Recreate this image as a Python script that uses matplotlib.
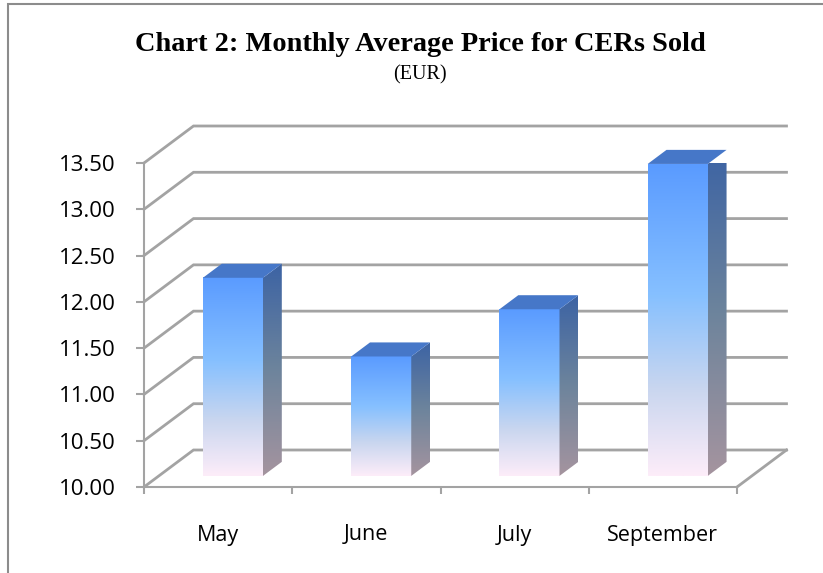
import numpy as np
import matplotlib.pyplot as plt
from matplotlib.colors import LinearSegmentedColormap
from matplotlib.patches import Polygon, Rectangle

# data
months = ['May', 'June', 'July', 'September']
prices = [12.14, 11.29, 11.80, 13.37]
y_ticks = [10.0, 10.5, 11.0, 11.5, 12.0, 12.5, 13.0, 13.5]

W, H = 823, 573
fig = plt.figure(figsize=(W / 100, H / 100), dpi=100)

# front plane of the fake 3d box (pixels)
left_px, right_px = 144, 737
bot_px, top_px = 487, 163
ax = fig.add_axes([left_px / W, 1 - bot_px / H,
                   (right_px - left_px) / W, (bot_px - top_px) / H])
ax.set_facecolor('none')

n = len(months)
ymin, ymax = y_ticks[0], y_ticks[-1]
sx = (right_px - left_px) / n            # px per category
sy = (bot_px - top_px) / (ymax - ymin)   # px per unit

# depth of the walls in data units
DX = 49.5 / sx
DY = 37 / sy

grid = '#a3a3a3'

# back wall + side wall gridlines
for v in y_ticks:
    ax.plot([0, DX, n + DX], [v, v + DY, v + DY], color=grid, lw=2,
            clip_on=False, zorder=1, solid_joinstyle='miter')
# floor right edge
ax.plot([n, n + DX], [ymin, ymin + DY], color=grid, lw=2, clip_on=False, zorder=1)

front_cmap = LinearSegmentedColormap.from_list(
    'front', [(0, '#5a9bff'), (0.42, '#86c0ff'), (0.72, '#c9d6ef'), (1, '#fdedf9')])
side_cmap = LinearSegmentedColormap.from_list(
    'side', [(0, '#3c63a4'), (0.5, '#6d849c'), (1, '#a5949f')])
top_color = '#4677c8'

grad_front = front_cmap(np.linspace(0, 1, 256))[:, None, :3]
grad_side = side_cmap(np.linspace(0, 1, 256))[:, None, :3]

f0 = 0.3          # where the bar front sits in the depth
bd = 0.38         # bar depth as part of the wall depth
bar_w = 0.405
bdx, bdy = bd * DX, bd * DY

for i, v in enumerate(prices):
    xl = i + 0.5 - bar_w / 2 + f0 * DX
    xr = xl + bar_w
    yb = ymin + f0 * DY
    yt = v + f0 * DY

    # front face
    ax.imshow(grad_front, extent=[xl, xr, yb, yt], aspect='auto',
              interpolation='bilinear', clip_on=False, zorder=3)

    # side face
    side = Polygon([(xr, yb), (xr + bdx, yb + bdy), (xr + bdx, yt + bdy), (xr, yt)],
                   closed=True, transform=ax.transData)
    ax.imshow(grad_side, extent=[xr, xr + bdx, yb, yt + bdy], aspect='auto',
              interpolation='bilinear', clip_path=side, zorder=3)

    # top face
    ax.add_patch(Polygon([(xl, yt), (xr, yt), (xr + bdx, yt + bdy), (xl + bdx, yt + bdy)],
                         closed=True, facecolor=top_color, edgecolor='none',
                         clip_on=False, zorder=4))

ax.set_xlim(0, n)
ax.set_ylim(ymin, ymax)

# axes and ticks
for s in ['top', 'right']:
    ax.spines[s].set_visible(False)
for s in ['left', 'bottom']:
    ax.spines[s].set_color(grid)
    ax.spines[s].set_linewidth(1.5)

ax.set_yticks(y_ticks)
ax.set_yticklabels([f'{v:.2f}' for v in y_ticks])
ax.tick_params(axis='y', direction='out', length=5.8, width=1.5, color=grid,
               pad=14.5, labelsize=16)

ax.set_xticks(range(n + 1))
ax.set_xticklabels([])
ax.set_xticks([i + 0.5 for i in range(n)], minor=True)
ax.set_xticklabels(months, minor=True)
ax.tick_params(axis='x', which='major', direction='out', length=5, width=1.5, color=grid)
ax.tick_params(axis='x', which='minor', length=0, pad=27, labelsize=15.5)

for lab in ax.get_yticklabels() + ax.get_xticklabels(minor=True):
    lab.set_fontfamily('Open Sans')

# titles
fig.text(420 / W, 1 - 51 / H, 'Chart 2: Monthly Average Price for CERs Sold',
         ha='center', va='baseline', fontfamily='Liberation Serif',
         fontweight='bold', fontsize=20.4)
fig.text(420 / W, 1 - 79 / H, '(EUR)', ha='center', va='baseline',
         fontfamily='Liberation Serif', fontsize=14.5)

# chart border (only top and left show in the crop)
fig.add_artist(Rectangle((8 / W, -0.1), 1.2, 1 - 4 / H + 0.1,
                         transform=fig.transFigure, fill=False,
                         edgecolor='#8c8c8c', lw=1.5))

fig.savefig('out.png', dpi=100)
